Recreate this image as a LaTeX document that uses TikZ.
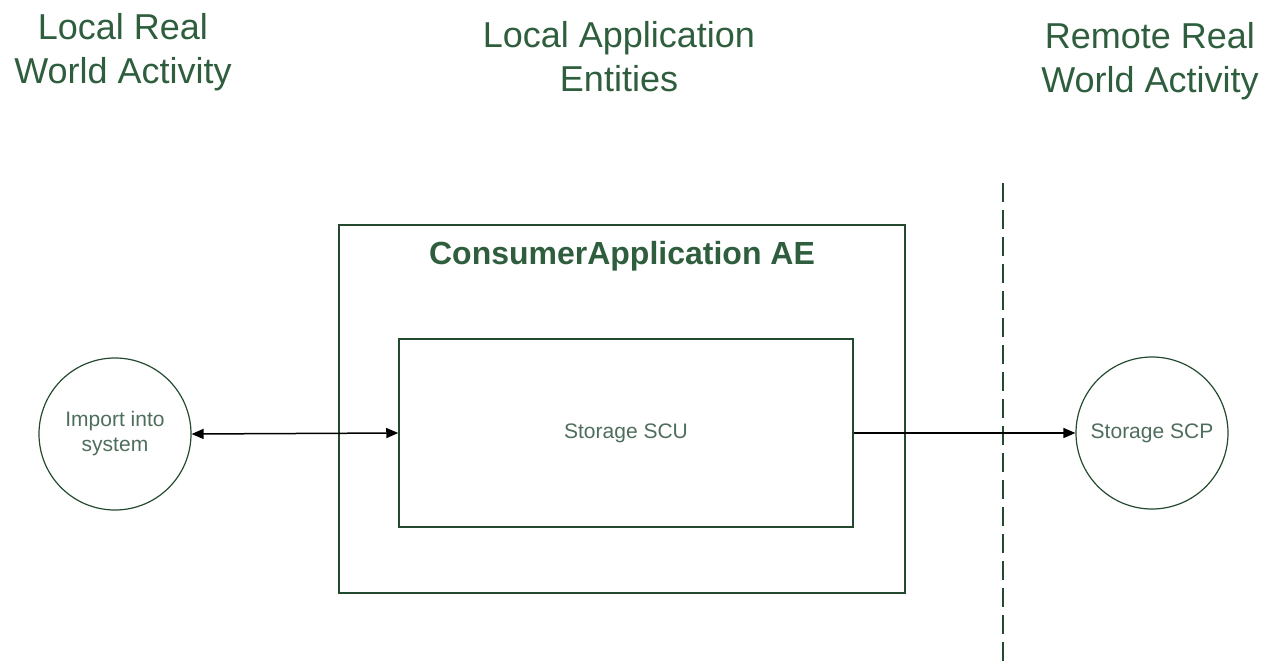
\documentclass[tikz,border=0pt]{standalone}
\usepackage{fontspec}
\setmainfont{Liberation Sans}
\usetikzlibrary{arrows.meta}
\definecolor{hdgreen}{HTML}{2F5E3E}
\definecolor{lngreen}{HTML}{234A2F}
\definecolor{txgreen}{HTML}{4E6E5C}
\begin{document}
\begin{tikzpicture}[x=1pt,y=-1pt,>={Triangle[length=12pt,width=10pt]},
	header/.style={align=center,text=hdgreen,font=\fontsize{36}{44}\selectfont},
	actor/.style={circle,draw=lngreen,line width=1.2pt,minimum size=152pt,inner sep=0pt,align=center,text=txgreen,font=\fontsize{21}{25}\selectfont},
	box/.style={draw=lngreen,line width=1.5pt,inner sep=0pt}]
		\useasboundingbox (0,0) rectangle (1277,669);
		\node[header] (hlocal) at (123,52) {Local Real\\World Activity};
		\node[header] (hae) at (619,57) {Local Application\\Entities};
		\node[header] (hremote) at (1150,61) {Remote Real\\World Activity};
		\node[box,minimum width=566pt,minimum height=368pt] (aebox) at (622,409) {};
		\node[text=hdgreen,font=\bfseries\fontsize{32}{38}\selectfont] (aetitle) at (622,256) {ConsumerApplication AE};
		\node[box,minimum width=454pt,minimum height=188pt,text=txgreen,font=\fontsize{21}{25}\selectfont] (scubox) at (626,433) {\raisebox{-2pt}{Storage SCU}};
		\node[actor] (import) at (115,434) {Import into\\system};
		\node[actor] (scp) at (1152,433) {\raisebox{-2pt}{Storage SCP}};
		\coordinate (divtop) at (1003,183);
		\coordinate (divbot) at (1003,669);
		\draw[lngreen,line width=1.5pt,dash pattern=on 19pt off 8pt] (divtop)--(divbot);
		\draw[<->,line width=1.5pt] (import.east)--(scubox.west);
		\draw[->,line width=1.5pt] (scubox.east)--(scp.west);
	\end{tikzpicture}
\end{document}
